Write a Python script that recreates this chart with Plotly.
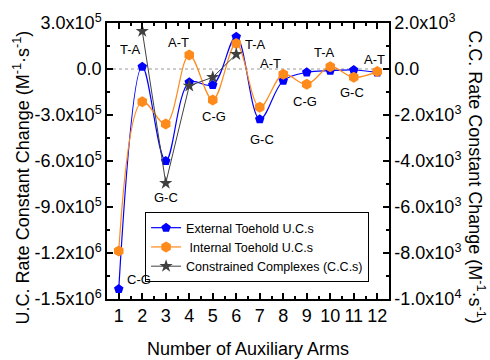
import plotly.graph_objects as go

arms = list(range(1, 13))
external_uc = [-1.435e6, 1.5e4, -6.0e5, -8.7e4, -1.04e5, 2.1e5, -3.28e5, -7.6e4, -2.2e4, -1.1e4, -6.5e3, -2.2e4]
internal_uc = [-1.187e6, -2.13e5, -3.59e5, 9.1e4, -2.02e5, 1.67e5, -2.5e5, -3.5e4, -1.0e5, 1.5e4, -5.4e4, -1.7e4]
cc_arms = [2, 3, 4, 5, 6]
constrained_cc = [1.65e3, -4.96e3, -7.3e2, -3.6e2, 6.4e2]

left_ticks = [3e5, 0, -3e5, -6e5, -9e5, -1.2e6, -1.5e6]
left_ticktext = ["3.0x10<sup>5</sup>", "0.0", "-3.0x10<sup>5</sup>", "-6.0x10<sup>5</sup>",
                 "-9.0x10<sup>5</sup>", "-1.2x10<sup>6</sup>", "-1.5x10<sup>6</sup>"]
right_ticks = [2e3, 0, -2e3, -4e3, -6e3, -8e3, -1e4]
right_ticktext = ["2.0x10<sup>3</sup>", "0.0", "-2.0x10<sup>3</sup>", "-4.0x10<sup>3</sup>",
                  "-6.0x10<sup>3</sup>", "-8.0x10<sup>3</sup>", "-1.0x10<sup>4</sup>"]

pair_labels = ["C-G", "T-A", "G-C", "A-T", "C-G", "T-A", "G-C", "A-T", "C-G", "T-A", "G-C", "A-T"]
label_x = [1.85, 1.51, 3.03, 3.54, 5.07, 6.8, 7.1, 7.44, 8.92, 9.77, 10.92, 11.89]
label_y = [-1.376e6, 1.24e5, -8.4e5, 1.7e5, -3.13e5, 1.63e5, -4.57e5, 3.3e4, -2.15e5, 1.1e5, -1.5e5, 5.9e4]

FONT = "Liberation Sans, Arial, sans-serif"

fig = go.Figure()
fig.add_trace(go.Scatter(
    x=arms, y=external_uc, name="External Toehold U.C.s", mode="lines+markers",
    line=dict(color="#0000FF", width=1.2, shape="spline"),
    marker=dict(symbol="pentagon", size=10, color="#0000FF")))
fig.add_trace(go.Scatter(
    x=arms, y=internal_uc, name=" Internal Toehold U.C.s", mode="lines+markers",
    line=dict(color="#FF8A1C", width=1.2, shape="spline"),
    marker=dict(symbol="hexagon", size=11, color="#FF8A1C")))
fig.add_trace(go.Scatter(
    x=cc_arms, y=constrained_cc, name="Constrained Complexes (C.C.s)", mode="lines+markers",
    yaxis="y2",
    line=dict(color="#404040", width=1),
    marker=dict(symbol="star", size=10, color="#404040")))

fig.add_shape(type="line", xref="paper", x0=0, x1=1, yref="y", y0=0, y1=0,
              line=dict(color="#999999", width=1.2, dash="dot"), layer="below")

annotations = []
for t, lx, ly in zip(pair_labels, label_x, label_y):
    annotations.append(dict(x=lx, y=ly, xref="x", yref="y", text=t, showarrow=False,
                            font=dict(size=13, color="black", family=FONT)))

annotations.append(dict(xref="paper", yref="paper", x=-0.302, y=0.44, textangle=-90,
                        xanchor="center", yanchor="middle",
                        text="U.C. Rate Constant Change (M<sup>-1</sup>·s<sup>-1</sup>)",
                        showarrow=False, font=dict(size=18, color="black", family=FONT)))
annotations.append(dict(xref="paper", yref="paper", x=1.31, y=0.44, textangle=90,
                        xanchor="center", yanchor="middle",
                        text="C.C. Rate Constant Change (M<sup>-1</sup>·s<sup>-1</sup>)",
                        showarrow=False, font=dict(size=18, color="black", family=FONT)))
annotations.append(dict(xref="paper", yref="paper", x=0.5, y=-0.181, yanchor="middle",
                        xanchor="center",
                        text="Number of Auxiliary Arms",
                        showarrow=False, font=dict(size=18, color="black", family=FONT)))

fig.update_layout(
    width=490, height=360,
    margin=dict(l=107, r=101, t=23, b=61),
    paper_bgcolor="white", plot_bgcolor="white",
    font=dict(family=FONT, color="black"),
    showlegend=True,
    legend=dict(x=0.135, y=0.315, xanchor="left", yanchor="top",
                bgcolor="white", bordercolor="black", borderwidth=1,
                font=dict(size=12.5, color="black", family=FONT),
                itemwidth=30, tracegroupgap=0),
    annotations=annotations,
    xaxis=dict(range=[0.5, 12.5], tickmode="array", tickvals=arms,
               ticktext=[str(a) for a in arms],
               showline=True, linecolor="black", linewidth=1.5, mirror="ticks",
               ticks="inside", ticklen=6, tickcolor="black", tickwidth=1.5,
               minor=dict(dtick=0.5, tick0=0.5, ticks="inside", ticklen=3, tickcolor="black", tickwidth=1.5),
               showgrid=False, zeroline=False,
               tickfont=dict(size=18, color="black", family=FONT)),
    yaxis=dict(range=[-1.5e6, 3e5], tickmode="array", tickvals=left_ticks,
               ticktext=left_ticktext,
               showline=True, linecolor="black", linewidth=1.5,
               ticks="inside", ticklen=6, tickcolor="black", tickwidth=1.5,
               minor=dict(dtick=1.5e5, tick0=0, ticks="inside", ticklen=3, tickcolor="black", tickwidth=1.5),
               showgrid=False, zeroline=False,
               tickfont=dict(size=18, color="black", family=FONT)),
    yaxis2=dict(range=[-1e4, 2e3], overlaying="y", side="right", tickmode="array",
                tickvals=right_ticks, ticktext=right_ticktext,
                showline=True, linecolor="black", linewidth=1.5,
                ticks="inside", ticklen=6, tickcolor="black", tickwidth=1.5,
                minor=dict(dtick=1e3, tick0=0, ticks="inside", ticklen=3, tickcolor="black", tickwidth=1.5),
                showgrid=False, zeroline=False,
                tickfont=dict(size=18, color="black", family=FONT)),
)

fig.write_html("out.html")
